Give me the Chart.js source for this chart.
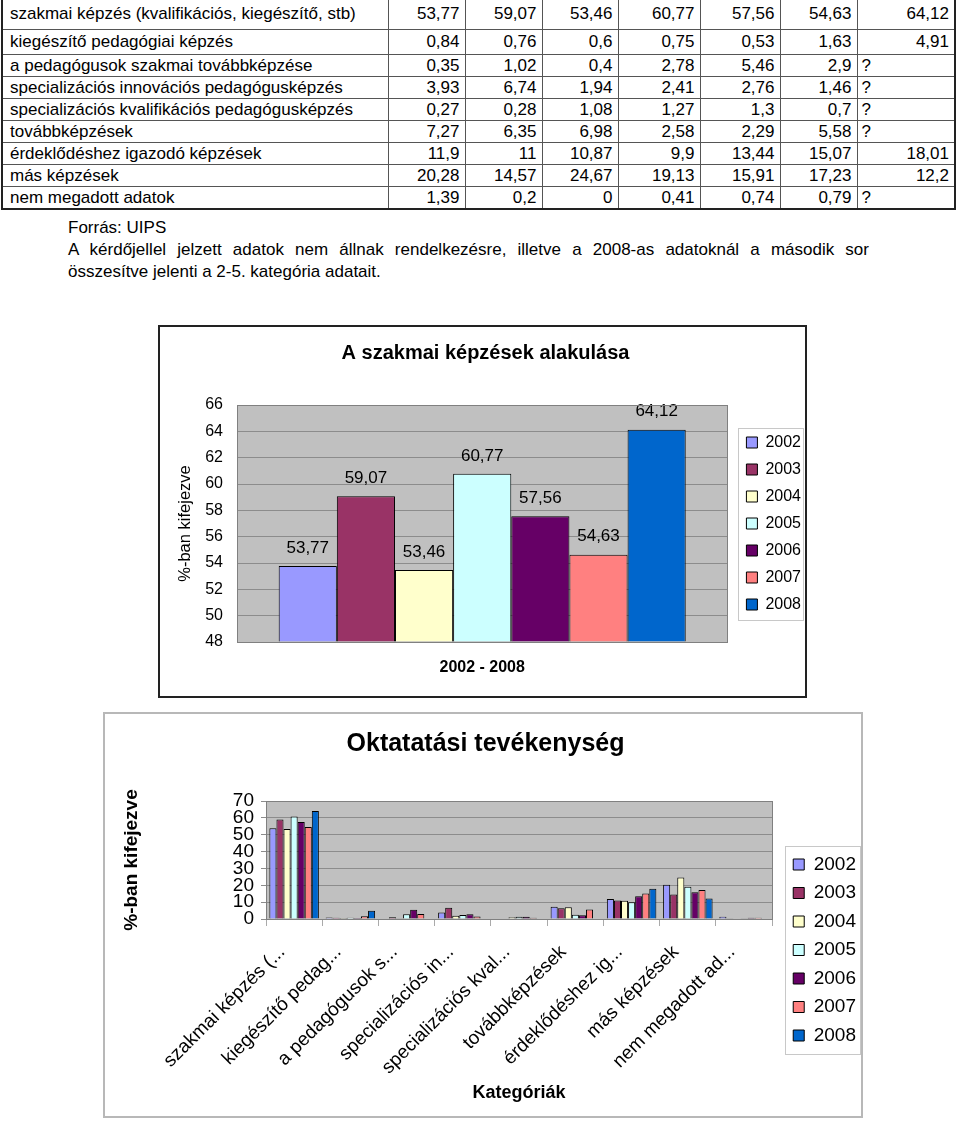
<!DOCTYPE html>
<html lang="hu">
<head>
<meta charset="utf-8">
<script src="https://cdn.jsdelivr.net/npm/chart.js@4.4.1/dist/chart.umd.min.js"></script>
<style>
  body { margin: 0; width: 960px; height: 1127px; position: relative; overflow: hidden; background: #fff;
         font-family: "Liberation Sans", Arial, sans-serif; color: #000; }
  #dataTable { position: absolute; left: 1px; top: -3px; border-collapse: collapse; border: 2px solid #222;
               font-size: 17px; table-layout: fixed; }
  #dataTable td { border: 1px solid #555; padding: 0 5px 0 6px; height: 21px; text-align: right; white-space: nowrap; overflow: hidden; }
  #dataTable tr:first-child td { height: 30px; }
  #dataTable tr:nth-child(2) td { height: 24px; }
  #dataTable td.label { text-align: left; padding-left: 7px; }
  #dataTable td.missing { text-align: left; padding-left: 4px; }
  #note { position: absolute; left: 68px; top: 217px; width: 801px; font-size: 17px; line-height: 22px; text-align: justify; }
  .box { position: absolute; box-sizing: border-box; }
  #box1 { left: 158px; top: 325px; width: 649px; height: 373px; border: 2px solid #222; }
  #box2 { left: 103px; top: 712px; width: 760px; height: 406px; border: 2px solid #b8b8b8; }
  canvas { position: absolute; left: 0; top: 0; }
</style>
</head>
<body>

<table id="dataTable">
  <colgroup>
    <col style="width:386px"><col style="width:77px"><col style="width:77px"><col style="width:76px">
    <col style="width:82px"><col style="width:80px"><col style="width:77px"><col style="width:98px">
  </colgroup>
  <tbody id="tableBody"></tbody>
</table>

<div id="note">
  Forrás: UIPS<br>
  A kérdőjellel jelzett adatok nem állnak rendelkezésre, illetve a 2008-as adatoknál a második sor összesítve jelenti a 2-5. kategória adatait.
</div>

<div class="box" id="box1"><canvas id="chart1" width="664" height="369"></canvas></div>
<div class="box" id="box2"><canvas id="chart2" width="766" height="402"></canvas></div>

<script>
// ===== Data =====
const categories = [
  'szakmai képzés (kvalifikációs, kiegészítő, stb)',
  'kiegészítő pedagógiai képzés',
  'a pedagógusok szakmai továbbképzése',
  'specializációs innovációs pedagógusképzés',
  'specializációs kvalifikációs pedagógusképzés',
  'továbbképzések',
  'érdeklődéshez igazodó képzések',
  'más képzések',
  'nem megadott adatok'
];
const shortLabels = [
  'szakmai képzés (...', 'kiegészítő pedag...', 'a pedagógusok s...', 'specializációs in...',
  'specializációs kval...', 'továbbképzések', 'érdeklődéshez ig...', 'más képzések', 'nem megadott ad...'
];
const years = ['2002', '2003', '2004', '2005', '2006', '2007', '2008'];

const v2002 = [53.77, 0.84, 0.35, 3.93, 0.27, 7.27, 11.9, 20.28, 1.39];
const v2003 = [59.07, 0.76, 1.02, 6.74, 0.28, 6.35, 11, 14.57, 0.2];
const v2004 = [53.46, 0.6, 0.4, 1.94, 1.08, 6.98, 10.87, 24.67, 0];
const v2005 = [60.77, 0.75, 2.78, 2.41, 1.27, 2.58, 9.9, 19.13, 0.41];
const v2006 = [57.56, 0.53, 5.46, 2.76, 1.3, 2.29, 13.44, 15.91, 0.74];
const v2007 = [54.63, 1.63, 2.9, 1.46, 0.7, 5.58, 15.07, 17.23, 0.79];
const v2008 = [64.12, 4.91, null, null, null, null, 18.01, 12.2, null];

const yearColors = ['#9999ff', '#993366', '#ffffcc', '#ccffff', '#660066', '#ff8080', '#0066cc'];
const series = [v2002, v2003, v2004, v2005, v2006, v2007, v2008];

const FONT = '"Liberation Sans", Arial, sans-serif';
const fmt = v => String(v).replace('.', ',');

// --- Table ---
document.getElementById('tableBody').innerHTML = categories.map((cat, i) => `
  <tr><td class="label">${cat}</td>${series.map(s => s[i] === null
      ? '<td class="missing">?</td>'
      : `<td>${fmt(s[i])}</td>`).join('')}</tr>`).join('');

// --- Plugins ---
const plotBg = {
  id: 'plotBg',
  beforeDraw(chart) {
    const { ctx, chartArea: a } = chart;
    ctx.save();
    ctx.fillStyle = '#c0c0c0';
    ctx.fillRect(a.left, a.top, a.width, a.height);
    ctx.restore();
  },
  afterDraw(chart, args, opts) {
    const { ctx, chartArea: a } = chart;
    ctx.save();
    ctx.strokeStyle = '#808080';
    ctx.lineWidth = 1;
    ctx.strokeRect(Math.round(a.left) + 0.5, Math.round(a.top) + 0.5, Math.round(a.width), Math.round(a.height));
    // frame round the legend
    const boxes = chart.legend.legendHitBoxes;
    if (boxes && boxes.length) {
      const l = Math.min(...boxes.map(b => b.left)) - opts.padL;
      const t = Math.min(...boxes.map(b => b.top)) - opts.padY;
      const r = Math.max(...boxes.map(b => b.left + b.width)) + opts.padR;
      const btm = Math.max(...boxes.map(b => b.top + b.height)) + opts.padY;
      ctx.strokeStyle = opts.frameColor;
      ctx.strokeRect(Math.round(l) + 0.5, Math.round(t) + 0.5, Math.round(r - l), Math.round(btm - t));
    }
    ctx.restore();
  }
};

const barValueLabels = {
  id: 'barValueLabels',
  afterDatasetsDraw(chart) {
    const { ctx } = chart;
    ctx.save();
    ctx.font = '17px ' + FONT;
    ctx.fillStyle = '#000';
    ctx.textAlign = 'center';
    ctx.textBaseline = 'middle';
    chart.data.datasets.forEach((ds, i) => {
      chart.getDatasetMeta(i).data.forEach((bar, j) => {
        ctx.fillText(fmt(ds.data[j]), bar.x, bar.y - 18);
      });
    });
    ctx.restore();
  }
};

// --- Chart 1: A szakmai képzések alakulása ---
new Chart(document.getElementById('chart1'), {
  type: 'bar',
  data: {
    labels: [''],
    datasets: years.map((y, i) => ({
      label: y,
      data: [series[i][0]],
      base: 48,
      backgroundColor: yearColors[i],
      borderColor: '#000',
      borderWidth: 1,
      categoryPercentage: 0.83,
      barPercentage: 1
    }))
  },
  options: {
    responsive: false,
    animation: false,
    layout: { padding: { left: 0, right: 13, top: 0, bottom: 15 } },
    plugins: {
      title: {
        display: true, text: 'A szakmai képzések alakulása', color: '#000',
        font: { family: FONT, size: 20, weight: 'bold' }, padding: { top: 14, bottom: 40 }
      },
      legend: {
        position: 'right', fullSize: false,
        labels: { boxWidth: 11, boxHeight: 11, padding: 11, color: '#000', font: { family: FONT, size: 16 } }
      },
      tooltip: { enabled: false },
      plotBg: { padL: 8, padR: 2, padY: 7, frameColor: '#c8c8c8' }
    },
    scales: {
      x: {
        ticks: { display: false },
        grid: { display: false },
        border: { display: false },
        title: { display: true, text: '2002 - 2008', color: '#000', font: { family: FONT, size: 16, weight: 'bold' }, padding: { top: 0, bottom: 4 } },
        afterFit: s => { s.height = 39; }
      },
      y: {
        min: 48, max: 66,
        ticks: { stepSize: 2, autoSkip: false, color: '#000', font: { family: FONT, size: 16 }, padding: 14 },
        grid: { color: '#8c8c8c', drawTicks: false },
        border: { display: false },
        title: { display: true, text: '%-ban kifejezve', color: '#000', font: { family: FONT, size: 16.5 }, padding: { top: 16, bottom: 0 } },
        afterFit: s => { s.width = 77; }
      },
      gap: {
        type: 'linear', position: 'right',
        ticks: { display: false }, grid: { display: false }, border: { display: false },
        afterFit: s => { s.width = 8; }
      }
    }
  },
  plugins: [plotBg, barValueLabels]
});

// --- Chart 2: Oktatatási tevékenység ---
new Chart(document.getElementById('chart2'), {
  type: 'bar',
  data: {
    labels: shortLabels,
    datasets: years.map((y, i) => ({
      label: y,
      data: series[i],
      backgroundColor: yearColors[i],
      borderColor: '#000',
      borderWidth: 1,
      categoryPercentage: 0.88,
      barPercentage: 1
    }))
  },
  options: {
    responsive: false,
    animation: false,
    layout: { padding: { left: 0, right: 5, top: 0, bottom: 12 } },
    plugins: {
      title: {
        display: true, text: 'Oktatatási tevékenység', color: '#000',
        font: { family: FONT, size: 25, weight: 'bold' }, padding: { top: 15, bottom: 42 }
      },
      legend: {
        position: 'right',
        // empty legend title only pushes the items down to where they sit in the original
        title: { display: true, text: ' ', font: { family: FONT, size: 10 }, padding: { top: 0, bottom: 70 } },
        labels: { boxWidth: 11, boxHeight: 11, padding: 9.5, color: '#000', font: { family: FONT, size: 19 } }
      },
      tooltip: { enabled: false },
      plotBg: { padL: 8, padR: 4, padY: 9, frameColor: '#c8c8c8' }
    },
    scales: {
      x: {
        ticks: { autoSkip: false, maxRotation: 45, minRotation: 45, color: '#000', font: { family: FONT, size: 19 }, padding: 15, labelOffset: -12 },
        grid: { drawOnChartArea: false, drawTicks: true, tickLength: 7, color: '#aaa', offset: true },
        border: { display: false },
        title: { display: true, text: 'Kategóriák', color: '#000', font: { family: FONT, size: 18, weight: 'bold' }, padding: { top: 0, bottom: 0 } },
        afterFit: s => { s.height = 185; }
      },
      y: {
        min: 0, max: 70,
        ticks: { stepSize: 10, autoSkip: false, color: '#000', font: { family: FONT, size: 19 }, padding: 7 },
        grid: { color: '#8c8c8c', tickLength: 5 },
        border: { display: false },
        title: { display: true, text: '%-ban kifejezve', color: '#000', font: { family: FONT, size: 19, weight: 'bold' }, padding: { top: 15, bottom: 0 } },
        afterFit: s => { s.width = 161; }
      },
      gap: {
        type: 'linear', position: 'right',
        ticks: { display: false }, grid: { display: false }, border: { display: false },
        afterFit: s => { s.width = 11.5; }
      }
    }
  },
  plugins: [plotBg]
});
</script>
</body>
</html>
